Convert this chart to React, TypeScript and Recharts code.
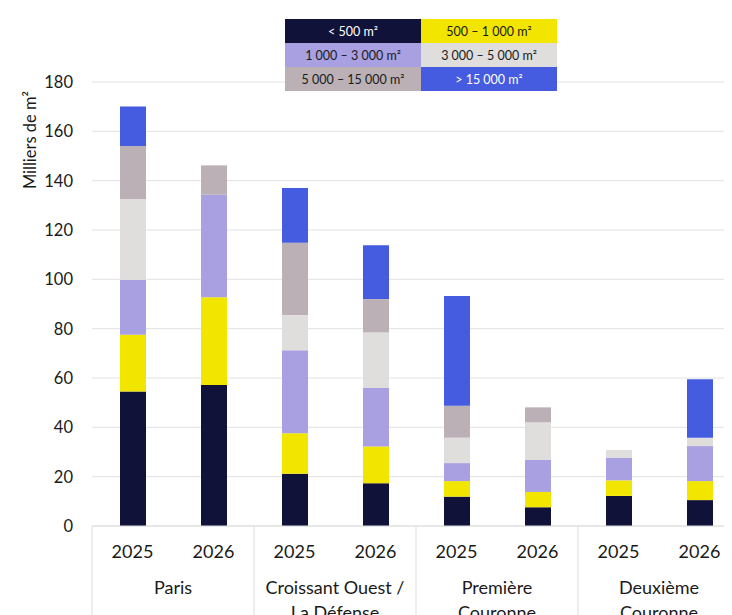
import React from 'react';
import { BarChart, Bar, XAxis, YAxis, CartesianGrid } from 'recharts';

const years = ['2025', '2026', '2025', '2026', '2025', '2026', '2025', '2026'];
const groups = ['Paris', 'Croissant Ouest /|La Défense', 'Première|Couronne', 'Deuxième|Couronne'];
const s500 = [54.5, 57.2, 21.2, 17.3, 11.9, 7.6, 12.2, 10.5];
const s1000 = [23.0, 35.5, 16.4, 14.9, 6.3, 6.2, 6.3, 7.7];
const s3000 = [22.3, 41.6, 33.6, 23.7, 7.3, 13.0, 9.2, 14.2];
const s5000 = [32.8, 0, 14.3, 22.6, 10.3, 15.2, 3.1, 3.4];
const s15000 = [21.5, 11.9, 29.3, 13.5, 13.0, 6.1, 0, 0];
const sOver = [16.0, 0, 22.2, 21.8, 44.4, 0, 0, 23.7];
const yTicks = [0, 20, 40, 60, 80, 100, 120, 140, 160, 180];

const series = [
  { key: 's500', name: '< 500 m²', color: '#10123a', text: '#ffffff', values: s500 },
  { key: 's1000', name: '500 – 1 000 m²', color: '#f2e600', text: '#1a1a1a', values: s1000 },
  { key: 's3000', name: '1 000 – 3 000 m²', color: '#a8a0e0', text: '#1a1a1a', values: s3000 },
  { key: 's5000', name: '3 000 – 5 000 m²', color: '#e0dddd', text: '#1a1a1a', values: s5000 },
  { key: 's15000', name: '5 000 – 15 000 m²', color: '#bab0b5', text: '#1a1a1a', values: s15000 },
  { key: 'sOver', name: '> 15 000 m²', color: '#455be0', text: '#ffffff', values: sOver },
];

const data = years.map((y, i) => {
  const row: any = { id: i, year: y, group: groups[Math.floor(i / 2)] };
  series.forEach((s) => { row[s.key] = s.values[i]; });
  return row;
});

const FONT = 'Lato, "Noto Sans", sans-serif';

const XTick = (props: any) => {
  const { x, y, payload, index } = props;
  const i = payload?.value ?? index;
  const row = data[i];
  const half = 40.5;
  const els: any[] = [];
  els.push(
    <text key="y" x={x} y={y + 25} textAnchor="middle" dominantBaseline="central" fontSize={18} fill="#1a1a1a">
      {row.year}
    </text>
  );
  if (i % 2 === 0) {
    els.push(<line key="sl" x1={x - half} x2={x - half} y1={y} y2={y + 122} stroke="#dddddd" strokeWidth={1} />);
    const lines = row.group.split('|');
    lines.forEach((ln: string, k: number) => {
      els.push(
        <text key={'g' + k} x={x + half} y={y + 61 + k * 25} textAnchor="middle" dominantBaseline="central" fontSize={18} fill="#1a1a1a">
          {ln}
        </text>
      );
    });
  }
  if (i === data.length - 1) {
    els.push(<line key="sr" x1={x + half} x2={x + half} y1={y} y2={y + 122} stroke="#dddddd" strokeWidth={1} />);
  }
  return <g>{els}</g>;
};

const LegendTable = () => (
  <div
    style={{
      position: 'absolute', top: 11, left: 277, zIndex: 2,
      display: 'grid', gridTemplateColumns: '136px 136px', gridAutoRows: '24px', fontFamily: FONT,
    }}
  >
    {series.map((s) => (
      <div key={s.key} style={{ background: s.color, color: s.text, fontSize: 12.5, display: 'flex', alignItems: 'center', justifyContent: 'center' }}>
        {s.name}
      </div>
    ))}
  </div>
);

const YLabel = () => (
  <text x={22} y={132} transform="rotate(-90 22 132)" textAnchor="middle" dominantBaseline="central" fontSize={16.5} fill="#1a1a1a">
    Milliers de m²
  </text>
);

export default function App() {
  return (
    <div style={{ width: 724, height: 607, overflow: 'hidden', fontFamily: FONT, position: 'relative' }}>
      <BarChart
        width={740}
        height={640}
        data={data}
        margin={{ top: 74, right: 8, bottom: 0, left: 0 }}
        style={{ fontFamily: FONT }}
      >
        <CartesianGrid vertical={false} stroke="#e2e2e2" />
        <XAxis
          dataKey="id"
          type="category"
          height={122}
          tickLine={false}
          tickSize={0}
          tickMargin={0}
          axisLine={{ stroke: '#dddddd' }}
          tick={<XTick />}
          interval={0}
        />
        <YAxis
          width={84}
          domain={[0, 180]}
          ticks={yTicks}
          tickLine={false}
          axisLine={false}
          tickSize={0}
          tickMargin={19}
          tick={{ fontSize: 16.5, fill: '#1a1a1a' }}
          label={<YLabel />}
        />
        {series.map((s) => (
          <Bar
            key={s.key}
            dataKey={s.key}
            name={s.name}
            stackId="a"
            fill={s.color}
            barSize={26}
            isAnimationActive={false}
          />
        ))}
      </BarChart>
      <LegendTable />
    </div>
  );
}
